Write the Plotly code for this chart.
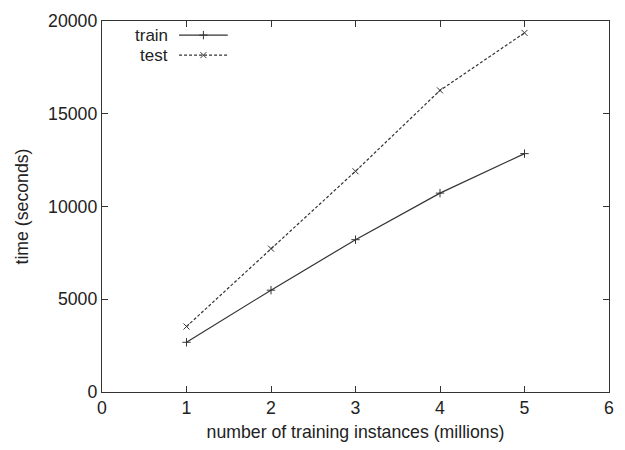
import plotly.graph_objects as go

x_vals = [1, 2, 3, 4, 5]
train_vals = [2680, 5490, 8210, 10720, 12850]
test_vals = [3530, 7730, 11900, 16260, 19360]
series_names = ["train", "test"]
x_ticks = [0, 1, 2, 3, 4, 5, 6]
y_ticks = [0, 5000, 10000, 15000, 20000]

ink = "#333333"
font = dict(family="Liberation Sans, Arial, sans-serif", size=17.7, color="#222222")
key_font = dict(family="Liberation Sans, Arial, sans-serif", size=17, color="#222222")

fig = go.Figure()
fig.add_trace(go.Scatter(x=x_vals, y=train_vals, mode="lines+markers", name=series_names[0],
                         line=dict(color=ink, width=1.2),
                         marker=dict(symbol="cross-thin", size=6, line=dict(color=ink, width=1))))
fig.add_trace(go.Scatter(x=x_vals, y=test_vals, mode="lines+markers", name=series_names[1],
                         line=dict(color=ink, width=1.2, dash="3px,2px"),
                         marker=dict(symbol="x-thin", size=6, line=dict(color=ink, width=1))))

# gnuplot-style key drawn on an overlay axis in [0,1]
key_y = [0.962, 0.908]
for i, name in enumerate(series_names):
    dash = "solid" if i == 0 else "3px,2px"
    sym = "cross-thin" if i == 0 else "x-thin"
    fig.add_trace(go.Scatter(x=[0.152, 0.248], y=[key_y[i], key_y[i]], mode="lines",
                             xaxis="x2", yaxis="y2", showlegend=False, hoverinfo="skip",
                             line=dict(color=ink, width=1.2, dash=dash)))
    fig.add_trace(go.Scatter(x=[0.200], y=[key_y[i]], mode="markers",
                             xaxis="x2", yaxis="y2", showlegend=False, hoverinfo="skip",
                             marker=dict(symbol=sym, size=6, line=dict(color=ink, width=1))))
    fig.add_annotation(x=0.132, y=key_y[i], xref="x2", yref="y2", text=name, showarrow=False,
                       xanchor="right", yanchor="middle", font=key_font, borderpad=0)

axis_common = dict(showgrid=False, zeroline=False, showline=True, linecolor=ink, linewidth=1.3,
                   mirror="ticks", ticks="inside", ticklen=6, tickcolor=ink, tickwidth=1.2,
                   tickfont=font)
fig.update_layout(
    width=625, height=450,
    margin=dict(l=102, r=11, t=19, b=56),
    paper_bgcolor="white", plot_bgcolor="white",
    showlegend=False,
    font=font,
    xaxis=dict(range=[0, 6], tickvals=x_ticks, title=dict(text="number of training instances (millions)",
               font=font, standoff=8), **axis_common),
    yaxis=dict(range=[0, 20000], tickvals=y_ticks, ticktext=[str(v) for v in y_ticks],
               title=dict(text="time (seconds)", font=font, standoff=14), **axis_common),
    xaxis2=dict(range=[0, 1], overlaying="x", visible=False, fixedrange=True),
    yaxis2=dict(range=[0, 1], overlaying="y", visible=False, fixedrange=True),
)

fig.write_html("out.html")
